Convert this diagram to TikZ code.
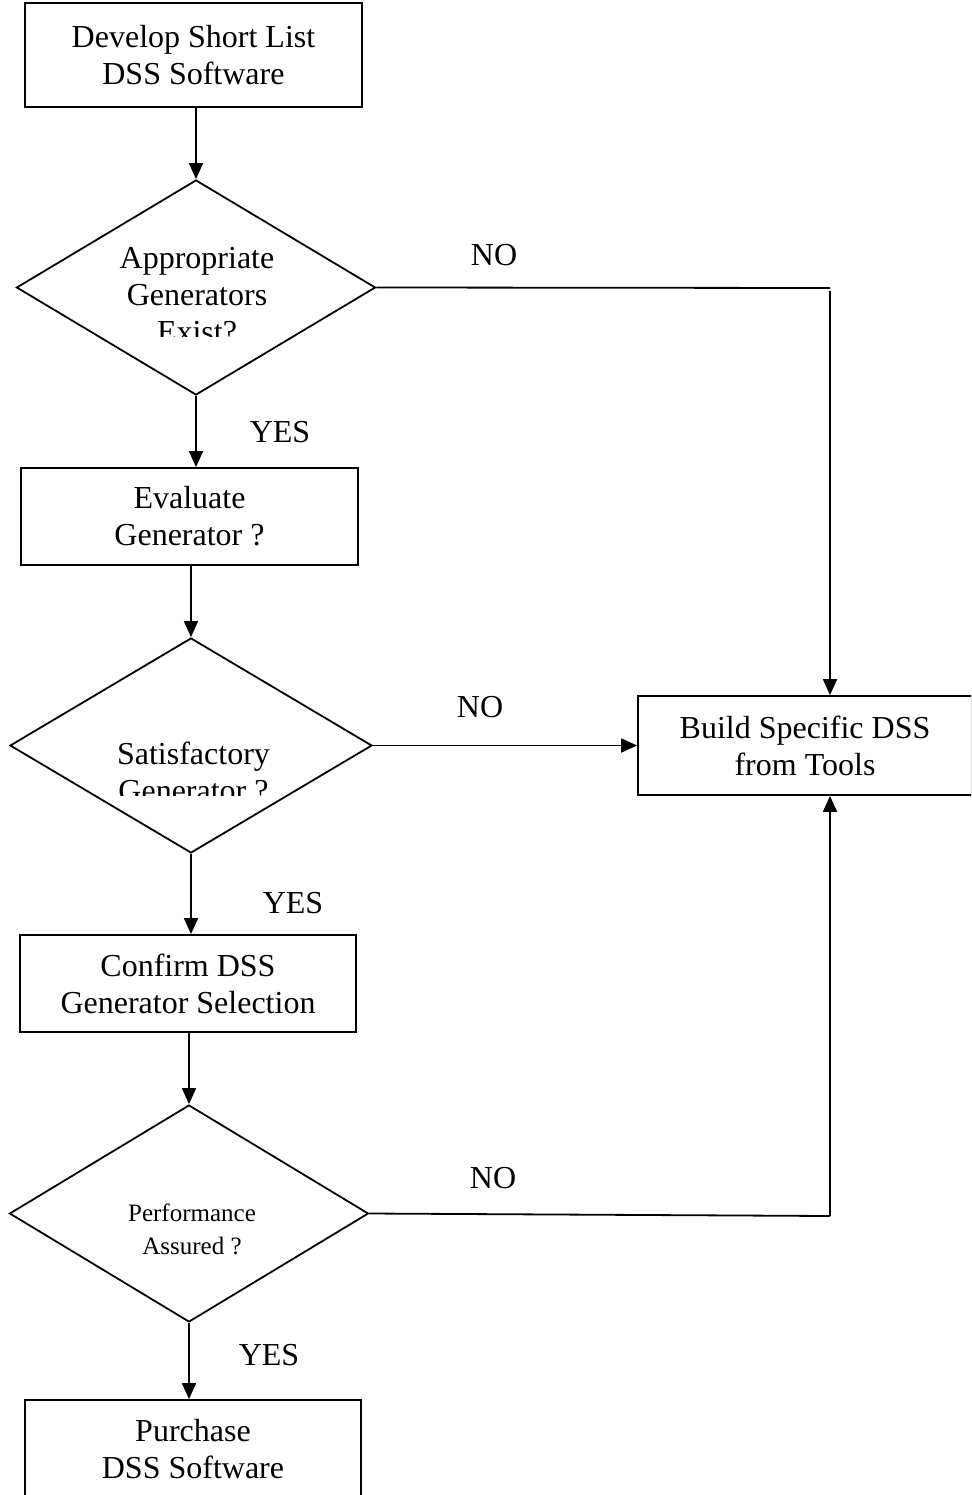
\documentclass[tikz,border=0pt]{standalone}
\usepackage{fontspec}
\setmainfont{Liberation Serif}
\usetikzlibrary{shapes.geometric,arrows.meta}
\begin{document}
\begin{tikzpicture}[x=1pt,y=-1pt,
  box/.style={draw,line width=1.8pt,rectangle,inner sep=0pt,align=center,font=\fontsize{32}{37}\selectfont},
  dia/.style={draw,line width=1.8pt,diamond,inner sep=0pt},
  txt/.style={align=center,inner sep=0pt,font=\fontsize{32}{37}\selectfont},
  smalltxt/.style={align=center,inner sep=0pt,font=\fontsize{25}{33}\selectfont},
  lab/.style={inner sep=0pt,font=\fontsize{32}{37}\selectfont},
  arr/.style={line width=1.8pt,-{Triangle[length=16pt,width=14pt]}},
  ln/.style={line width=1.8pt}]
\clip (0,0) rectangle (971,1495);
\fill[white] (0,0) rectangle (971,1495);

% boxes
\node[box,minimum width=337pt,minimum height=104pt] (b1) at (193.5,55) {Develop Short List\\DSS Software};
\node[box,minimum width=337pt,minimum height=97pt] (b2) at (189.5,516.5) {Evaluate\\Generator ?};
\node[box,minimum width=336pt,minimum height=97pt] (b3) at (188,983.5) {Confirm DSS\\Generator Selection};
\node[box,minimum width=336pt,minimum height=98pt] (b4) at (193,1449) {Purchase\\DSS Software};
\node[box,minimum width=334pt,minimum height=99pt] (b5) at (805,745.5) {Build Specific DSS\\from Tools};

% diamonds
\node[dia,minimum width=359pt,minimum height=215pt] (d1) at (196,287.5) {};
\node[dia,minimum width=362pt,minimum height=215pt] (d2) at (191,745.5) {};
\node[dia,minimum width=359pt,minimum height=217pt] (d3) at (189,1213.5) {};

% diamond texts (clipped as in the original)
\begin{scope}
\clip (0,0) rectangle (971,336.5);
\node[txt] (t1) at (197,295) {Appropriate\\Generators\\Exist?};
\end{scope}
\begin{scope}
\clip (0,700) rectangle (971,795);
\node[txt] (t2) at (193.5,772) {Satisfactory\\Generator ?};
\end{scope}
\node[smalltxt] (t3) at (192,1229) {Performance\\Assured ?};

% corner coordinates
\coordinate (c1) at (830,288);
\coordinate (c3) at (830,1216);

% vertical flow
\draw[arr] (b1.south -| d1.north) -- (d1.north);
\draw[arr] (d1.south) -- (d1.south |- b2.north);
\draw[arr] (d2.north |- b2.south) -- (d2.north);
\draw[arr] (d2.south) -- (d2.south |- b3.north);
\draw[arr] (d3.north |- b3.south) -- (d3.north);
\draw[arr] (d3.south) -- (d3.south |- b4.north);

% NO branches
\draw[ln] (d1.east) -- (c1);
\draw[arr] ([yshift=-3pt]c1) -- (c1 |- b5.north);
\draw[arr] (d2.east) -- (d2.east -| b5.west);
\draw[ln] (d3.east) -- (c3);
\draw[arr] (c3) -- (c3 |- b5.south);

% labels
\node[lab] (no1) at (494,255) {NO};
\node[lab] (no2) at (480,707) {NO};
\node[lab] (no3) at (493,1178) {NO};
\node[lab] (yes1) at (280,432) {YES};
\node[lab] (yes2) at (293,903) {YES};
\node[lab] (yes3) at (269,1355) {YES};
\end{tikzpicture}
\end{document}
